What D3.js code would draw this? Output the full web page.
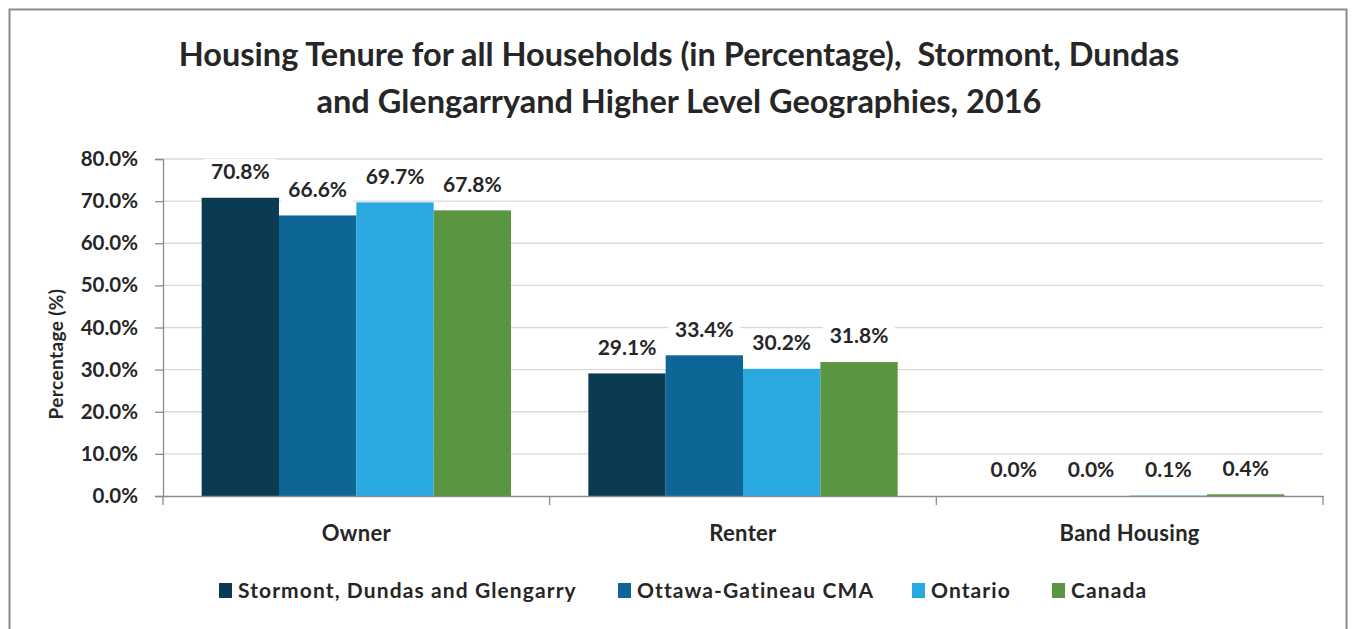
<!DOCTYPE html>
<html><head><meta charset="utf-8">
<script src="https://cdn.jsdelivr.net/npm/d3@7"></script>
<style>body{margin:0;background:#fff;} svg{display:block;} text{font-family:Lato,"Open Sans",sans-serif;font-weight:bold;}</style>
</head><body>
<svg id="c" width="1352" height="629"></svg>
<script>
const categories = ["Owner", "Renter", "Band Housing"];
const seriesNames = ["Stormont, Dundas and Glengarry", "Ottawa-Gatineau CMA", "Ontario", "Canada"];
const sdg = [70.8, 29.1, 0.0];
const ottawa = [66.6, 33.4, 0.0];
const ontario = [69.7, 30.2, 0.1];
const canada = [67.8, 31.8, 0.4];
const seriesColors = ["#0B3A53", "#0D6696", "#29A9E0", "#5A9642"];
const yTicks = [0, 10, 20, 30, 40, 50, 60, 70, 80];
const titleLines = ["Housing Tenure for all Households (in Percentage),  Stormont, Dundas", "and Glengarryand Higher Level Geographies, 2016"];

const series = [sdg, ottawa, ontario, canada];
const svg = d3.select("#c");
const m = {left: 163, right: 1323, top: 159, bottom: 496};

// frame
svg.append("rect").attr("x", 9.5).attr("y", 9.5).attr("width", 1337).attr("height", 640)
  .attr("fill", "#fff").attr("stroke", "#8c8c8c").attr("stroke-width", 2);

// title
svg.append("g").selectAll("text").data(titleLines).join("text")
  .attr("x", 679).attr("y", (d, i) => 66 + i * 47)
  .attr("text-anchor", "middle").attr("font-size", 32.5).attr("fill", "#262626")
  .style("white-space", "pre")
  .text(d => d);

const y = d3.scaleLinear().domain([0, 80]).range([m.bottom, m.top]);
const x0 = d3.scaleBand().domain(categories).range([m.left, m.right]).paddingInner(0.2).paddingOuter(0.1);
const xCat = d3.scaleBand().domain(categories).range([m.left, m.right]);
const x1 = d3.scaleBand().domain(d3.range(series.length)).range([0, x0.bandwidth()]);

// gridlines
svg.append("g").selectAll("line").data(yTicks.slice(1)).join("line")
  .attr("x1", m.left).attr("x2", m.right).attr("y1", d => y(d)).attr("y2", d => y(d))
  .attr("stroke", "#d9d9d9").attr("stroke-width", 1.3);

// y axis
const yAxis = d3.axisLeft(y).tickValues(yTicks).tickSize(8).tickPadding(17).tickFormat(d => d3.format(".1f")(d) + "%");
const ya = svg.append("g").attr("transform", `translate(${m.left},0)`).call(yAxis);
ya.select(".domain").attr("stroke", "#8c8c8c").attr("stroke-width", 1.3);
ya.selectAll(".tick line").attr("stroke", "#8c8c8c").attr("stroke-width", 1.3);
ya.selectAll(".tick text").attr("font-size", 20.5).attr("fill", "#262626").attr("font-family", "Lato").attr("font-weight", "bold");

// y title
svg.append("text").attr("transform", "translate(63,354) rotate(-90)")
  .attr("text-anchor", "middle").attr("font-size", 19).attr("letter-spacing", 0.4).attr("fill", "#262626").text("Percentage (%)");

// bars
const flat = [];
categories.forEach((c, ci) => series.forEach((s, si) => flat.push({c, si, v: s[ci]})));
svg.append("g").selectAll("rect").data(flat).join("rect")
  .attr("x", d => x0(d.c) + x1(d.si)).attr("width", x1.bandwidth())
  .attr("y", d => y(d.v)).attr("height", d => m.bottom - y(d.v))
  .attr("fill", d => seriesColors[d.si]);

// x axis
const xa = svg.append("g").attr("transform", `translate(0,${m.bottom})`)
  .call(d3.axisBottom(xCat).tickSize(0).tickFormat(""));
xa.select(".domain").attr("stroke", "#8c8c8c").attr("stroke-width", 1.3);
xa.selectAll(".tick").remove();
const bounds = [m.left].concat(categories.map(c => xCat(c) + xCat.bandwidth()));
svg.append("g").selectAll("line").data(bounds).join("line")
  .attr("x1", d => d).attr("x2", d => d).attr("y1", m.bottom).attr("y2", m.bottom + 9)
  .attr("stroke", "#8c8c8c").attr("stroke-width", 1.3);
svg.append("g").selectAll("text").data(categories).join("text")
  .attr("x", d => xCat(d) + xCat.bandwidth() / 2).attr("y", 541)
  .attr("text-anchor", "middle").attr("font-size", 22).attr("letter-spacing", 0.3).attr("fill", "#262626").text(d => d);

// data labels
const lab = svg.append("g").selectAll("g").data(flat).join("g")
  .attr("transform", d => `translate(${x0(d.c) + x1(d.si) + x1.bandwidth() / 2},${y(d.v) - 26})`);
lab.append("rect").attr("x", -36).attr("y", -13).attr("width", 72).attr("height", 26).attr("fill", "#fff");
lab.append("text").attr("text-anchor", "middle").attr("dy", "0.35em")
  .attr("font-size", 21).attr("fill", "#262626").text(d => d.v.toFixed(1) + "%");

// legend
const legX = [219, 618, 912, 1052];
const lg = svg.append("g").selectAll("g").data(seriesNames).join("g")
  .attr("transform", (d, i) => `translate(${legX[i]},591)`);
lg.append("rect").attr("x", 0).attr("y", -8).attr("width", 13).attr("height", 15).attr("fill", (d, i) => seriesColors[i]);
lg.append("text").attr("x", 19).attr("dy", "0.35em").attr("font-size", 21).attr("letter-spacing", 1.1).attr("fill", "#262626").text(d => d);
</script>
</body></html>
